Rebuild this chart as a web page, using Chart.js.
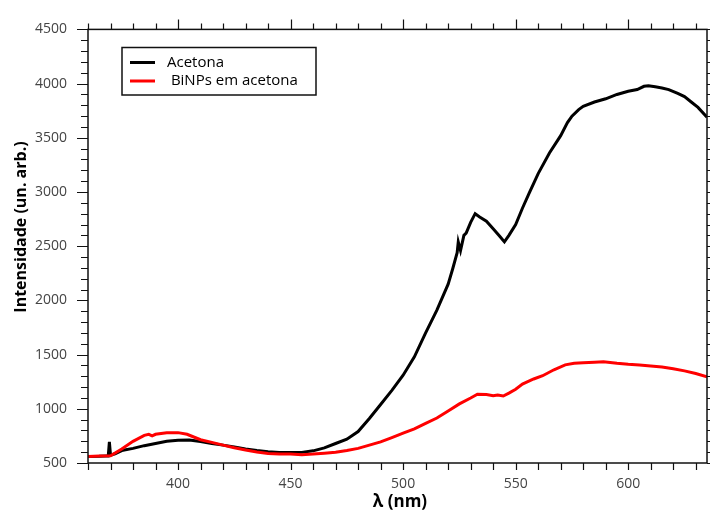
<!DOCTYPE html>
<html lang="pt">
<head>
  <meta charset="UTF-8">
  <title>Acetona vs BiNPs em acetona</title>
  <style>
    html, body { margin: 0; padding: 0; background: #fff; }
    #box { width: 710px; height: 512px; }
  </style>
</head>
<body>
  <div id="box"><canvas id="grafico"></canvas></div>

  <script src="https://cdn.jsdelivr.net/npm/chart.js"></script>
  <script>
    // series
    const seriesNames = ['Acetona', ' BiNPs em acetona'];

    const acetonaX = [360, 365, 368, 369, 369.5, 370, 372, 375, 380, 385, 390, 395, 400, 405, 410, 415, 420, 425, 430, 435,
      440, 445, 450, 455, 460, 465, 470, 475, 480, 485, 490, 495, 500, 505, 510, 515, 520, 522, 524, 524.5,
      525.5, 527, 528, 530, 532, 534, 537, 540, 543, 545, 547, 550, 553, 556, 560, 565, 570, 573, 575, 578,
      580, 585, 590, 595, 600, 604, 607, 609, 612, 615, 618, 622, 625, 628, 631, 635];
    const acetonaY = [560, 562, 565, 565, 695, 572, 585, 615, 635, 660, 680, 700, 710, 712, 698, 680, 665, 648, 630, 615,
      604, 598, 596, 598, 612, 640, 680, 720, 790, 910, 1040, 1170, 1310, 1480, 1700, 1910, 2150, 2290, 2440, 2540,
      2460, 2600, 2620, 2720, 2800, 2770, 2730, 2660, 2590, 2540, 2600, 2700, 2850, 2990, 3170, 3360, 3520, 3640, 3700, 3760,
      3790, 3830, 3860, 3900, 3930, 3945, 3975, 3980, 3970, 3960, 3945, 3910, 3880, 3830, 3780, 3690];

    const binpX = [360, 365, 370, 375, 380, 385, 387, 388.5, 390, 395, 400, 404, 410, 415, 420, 425, 430, 435, 440, 445,
      450, 455, 460, 465, 470, 475, 480, 485, 490, 495, 500, 505, 510, 515, 520, 525, 530, 533, 537, 540,
      542, 544.5, 547, 550, 553, 558, 562, 567, 572, 576, 580, 585, 589, 595, 600, 605, 610, 615, 620, 625,
      630, 635];
    const binpY = [560, 565, 567, 630, 700, 755, 765, 750, 765, 778, 780, 765, 715, 690, 665, 640, 620, 602, 588, 583,
      583, 577, 582, 590, 600, 615, 635, 665, 695, 735, 775, 815, 865, 915, 980, 1045, 1100, 1135, 1132, 1120,
      1128, 1118, 1145, 1180, 1228, 1275, 1305, 1360, 1405, 1420, 1425, 1430, 1435, 1420, 1410, 1405, 1395, 1385, 1370, 1350,
      1325, 1295];

    const xTicks = [400, 450, 500, 550, 600];
    const yTicks = [500, 1000, 1500, 2000, 2500, 3000, 3500, 4000, 4500];

    const fonte = '"Open Sans", "DejaVu Sans", sans-serif';

    function pontos(xs, ys) {
      return xs.map((x, i) => ({ x: x, y: ys[i] }));
    }

    // moldura, tracinhos, titulos dos eixos e legenda
    const moldura = {
      id: 'moldura',
      afterDraw(chart) {
        const ctx = chart.ctx;
        const a = chart.chartArea;
        const sx = chart.scales.x, sy = chart.scales.y;
        ctx.save();
        ctx.strokeStyle = '#111';
        ctx.lineWidth = 1.5;
        ctx.strokeRect(a.left, a.top, a.right - a.left, a.bottom - a.top);

        ctx.lineWidth = 1.2;
        ctx.beginPath();
        for (let v = 360; v <= 635; v += 10) {
          const px = Math.round(sx.getPixelForValue(v)) + 0.5;
          const grande = v % 50 === 0;
          ctx.moveTo(px, a.bottom); ctx.lineTo(px, a.bottom + 7);
          ctx.moveTo(px, a.top); ctx.lineTo(px, a.top - (grande ? 10 : 6));
        }
        for (let v = 500; v <= 4500; v += 100) {
          const py = Math.round(sy.getPixelForValue(v)) + 0.5;
          const grande = v % 500 === 0;
          ctx.moveTo(a.left, py); ctx.lineTo(a.left - (grande ? 11 : 7), py);
          ctx.moveTo(a.right, py); ctx.lineTo(a.right + 6, py);
        }
        ctx.stroke();

        // titulos
        ctx.fillStyle = '#000';
        ctx.font = 'bold 16px ' + fonte;
        ctx.textAlign = 'center';
        ctx.textBaseline = 'middle';
        ctx.save();
        ctx.translate(21, 227);
        ctx.rotate(-Math.PI / 2);
        ctx.fillText('Intensidade (un. arb.)', 0, 0);
        ctx.restore();
        ctx.font = 'bold 17px ' + fonte;
        ctx.fillText('\u03BB (nm)', 400, 502);

        // legenda
        ctx.lineWidth = 1.5;
        ctx.strokeStyle = '#111';
        ctx.strokeRect(122, 47.5, 194, 47.5);
        ctx.font = '15px ' + fonte;
        ctx.textAlign = 'left';
        chart.data.datasets.forEach((ds, i) => {
          const y = 62.5 + i * 18.5;
          ctx.strokeStyle = ds.borderColor;
          ctx.lineWidth = 3;
          ctx.beginPath();
          ctx.moveTo(130, y); ctx.lineTo(155, y);
          ctx.stroke();
          ctx.fillStyle = '#000';
          ctx.fillText(ds.label, 167, y);
        });
        ctx.restore();
      }
    };

    new Chart(document.getElementById('grafico'), {
      type: 'line',
      data: {
        datasets: [
          {
            label: seriesNames[0],
            data: pontos(acetonaX, acetonaY),
            borderColor: '#000000',
            borderWidth: 3,
            pointRadius: 0,
            order: 1
          },
          {
            label: seriesNames[1],
            data: pontos(binpX, binpY),
            borderColor: '#ff0000',
            borderWidth: 3,
            pointRadius: 0,
            order: 0
          }
        ]
      },
      options: {
        responsive: true,
        maintainAspectRatio: false,
        animation: false,
        layout: { padding: { top: 24, right: 3, left: 0, bottom: 0 } },
        plugins: {
          legend: { display: false },
          tooltip: { enabled: false }
        },
        scales: {
          x: {
            type: 'linear',
            min: 360,
            max: 635,
            afterFit: s => { s.height = 49; },
            afterBuildTicks: s => { s.ticks = xTicks.map(v => ({ value: v })); },
            grid: { display: false, drawTicks: false },
            border: { display: false },
            ticks: { padding: 13, color: '#444', font: { family: fonte, size: 14 }, callback: v => String(v) }
          },
          y: {
            min: 500,
            max: 4500,
            afterFit: s => { s.width = 88; },
            afterBuildTicks: s => { s.ticks = yTicks.map(v => ({ value: v })); },
            grid: { display: false, drawTicks: false },
            border: { display: false },
            ticks: { padding: 21, color: '#444', font: { family: fonte, size: 14 }, callback: v => String(v) }
          }
        }
      },
      plugins: [moldura]
    });
  </script>
</body>
</html>
